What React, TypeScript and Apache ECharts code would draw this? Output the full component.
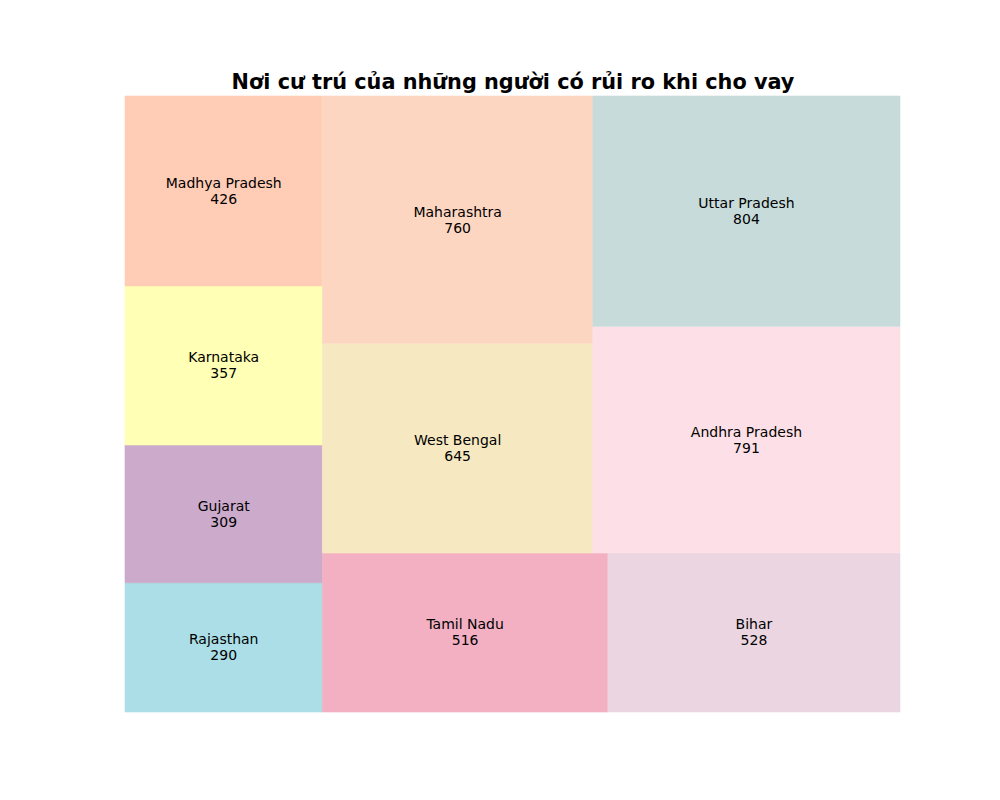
import React, { useEffect, useRef } from "react";
import * as echarts from "echarts";

const titleText = "Nơi cư trú của những người có rủi ro khi cho vay";
const states = [
  "Rajasthan",
  "Gujarat",
  "Karnataka",
  "Madhya Pradesh",
  "Tamil Nadu",
  "Bihar",
  "West Bengal",
  "Maharashtra",
  "Andhra Pradesh",
  "Uttar Pradesh",
];
const counts = [290, 309, 357, 426, 516, 528, 645, 760, 791, 804];
const colors = [
  "#ABDEE6",
  "#CBAACB",
  "#FFFFB5",
  "#FFCCB6",
  "#F3B0C3",
  "#EAD5E1",
  "#F6E9C2",
  "#FDD6C2",
  "#FDE0E7",
  "#C6DBDA",
];

type Rect = { x: number; y: number; dx: number; dy: number };

function layoutrow(sizes: number[], x: number, y: number, dx: number, dy: number): Rect[] {
  const covered = sizes.reduce((a, b) => a + b, 0);
  const width = covered / dy;
  const rects: Rect[] = [];
  for (const s of sizes) {
    rects.push({ x, y, dx: width, dy: s / width });
    y += s / width;
  }
  return rects;
}
function layoutcol(sizes: number[], x: number, y: number, dx: number, dy: number): Rect[] {
  const covered = sizes.reduce((a, b) => a + b, 0);
  const height = covered / dx;
  const rects: Rect[] = [];
  for (const s of sizes) {
    rects.push({ x, y, dx: s / height, dy: height });
    x += s / height;
  }
  return rects;
}
function layout(sizes: number[], x: number, y: number, dx: number, dy: number) {
  return dx >= dy ? layoutrow(sizes, x, y, dx, dy) : layoutcol(sizes, x, y, dx, dy);
}
function leftover(sizes: number[], x: number, y: number, dx: number, dy: number): Rect {
  const covered = sizes.reduce((a, b) => a + b, 0);
  if (dx >= dy) {
    const width = covered / dy;
    return { x: x + width, y, dx: dx - width, dy };
  }
  const height = covered / dx;
  return { x, y: y + height, dx, dy: dy - height };
}
function worst(sizes: number[], x: number, y: number, dx: number, dy: number) {
  return Math.max(
    ...layout(sizes, x, y, dx, dy).map((r) => Math.max(r.dx / r.dy, r.dy / r.dx))
  );
}
function squarify(sizes: number[], x: number, y: number, dx: number, dy: number): Rect[] {
  if (sizes.length === 0) return [];
  if (sizes.length === 1) return layout(sizes, x, y, dx, dy);
  let i = 1;
  while (
    i < sizes.length &&
    worst(sizes.slice(0, i), x, y, dx, dy) >= worst(sizes.slice(0, i + 1), x, y, dx, dy)
  )
    i++;
  const cur = sizes.slice(0, i);
  const rem = sizes.slice(i);
  const lo = leftover(cur, x, y, dx, dy);
  return layout(cur, x, y, dx, dy).concat(squarify(rem, lo.x, lo.y, lo.dx, lo.dy));
}

export default function App() {
  const ref = useRef<HTMLDivElement>(null);
  useEffect(() => {
    document.body.style.margin = "0";
    const chart = echarts.init(ref.current!, null, { renderer: "svg" });
    const total = counts.reduce((a, b) => a + b, 0);
    const norm = counts.map((c) => (c * 100 * 100) / total);
    const rects = squarify(norm, 0, 0, 100, 100);
    const data = rects.map((r, i) => [r.x, r.y, r.dx, r.dy, i]);
    chart.setOption({
      animation: false,
      title: {
        text: titleText,
        left: 508,
        textAlign: "center",
        top: 66,
        textStyle: { fontFamily: "DejaVu Sans", fontSize: 20.8, fontWeight: "bold", color: "#000" },
      },
      grid: { left: 125, right: 100, top: 96, bottom: 88 },
      xAxis: { type: "value", min: 0, max: 100, show: false },
      yAxis: { type: "value", min: 0, max: 100, show: false },
      series: [
        {
          type: "custom",
          data,
          renderItem: (params: any, api: any) => {
            const x = api.value(0);
            const y = api.value(1);
            const dx = api.value(2);
            const dy = api.value(3);
            const idx = api.value(4);
            const p0 = api.coord([x, y + dy]);
            const p1 = api.coord([x + dx, y]);
            return {
              type: "group",
              children: [
                {
                  type: "rect",
                  shape: { x: p0[0], y: p0[1], width: p1[0] - p0[0], height: p1[1] - p0[1] },
                  style: { fill: colors[idx], stroke: colors[idx], lineWidth: 0.6 },
                },
                {
                  type: "text",
                  x: (p0[0] + p1[0]) / 2,
                  y: (p0[1] + p1[1]) / 2,
                  style: {
                    text: states[idx] + "\n" + counts[idx],
                    align: "center",
                    verticalAlign: "middle",
                    fontFamily: "DejaVu Sans",
                    fontSize: 14,
                    lineHeight: 16,
                    fill: "#000",
                  },
                },
              ],
            };
          },
        },
      ],
    });
    return () => chart.dispose();
  }, []);
  return <div ref={ref} style={{ width: 1000, height: 800 }} />;
}
